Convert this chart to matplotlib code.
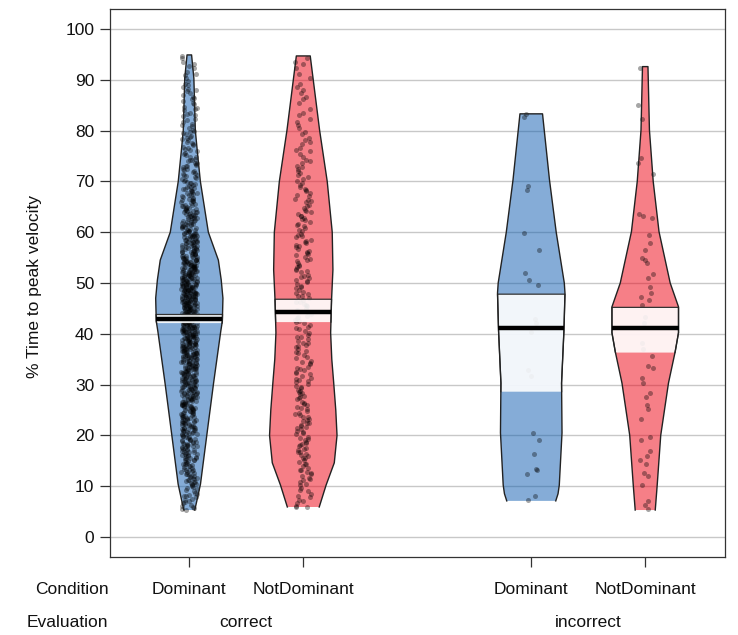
import numpy as np
import matplotlib
matplotlib.use("Agg")
import matplotlib.pyplot as plt
from matplotlib.transforms import blended_transform_factory

plt.rcParams['font.family'] = ['Liberation Sans', 'DejaVu Sans']

# groups, left to right
conditions = ["Dominant", "NotDominant", "Dominant", "NotDominant"]
evaluations = ["correct", "incorrect"]
positions = [1, 2, 4, 5]
colors = ["#0C5BB0", "#EE0011", "#0C5BB0", "#EE0011"]

# bean outlines: levels (% time) and half widths (x units)
bean_levels = [
    [5.3, 7.3, 10.4, 20.3, 30.3, 40.5, 42.5, 47, 50.6, 54.5, 60, 70, 76, 80, 90.3, 94.9],
    [5.9, 10.2, 14.6, 20, 25, 30.3, 35, 40.2, 46.7, 52.6, 60, 70, 80.1, 94.7],
    [7.1, 8.5, 10.2, 20.5, 30.3, 40.7, 48, 50, 60, 70.3, 83.3],
    [5.3, 10.2, 20, 30.3, 36.5, 40.2, 45.3, 50, 60.1, 70, 80.1, 92.6],
]
bean_widths = [
    [0.048, 0.068, 0.098, 0.155, 0.213, 0.276, 0.29, 0.295, 0.28, 0.255, 0.167, 0.097, 0.07, 0.053, 0.04, 0.02],
    [0.14, 0.2, 0.272, 0.296, 0.285, 0.267, 0.25, 0.24, 0.248, 0.26, 0.254, 0.21, 0.143, 0.061],
    [0.215, 0.235, 0.246, 0.27, 0.266, 0.287, 0.296, 0.29, 0.219, 0.16, 0.099],
    [0.088, 0.105, 0.136, 0.204, 0.263, 0.292, 0.292, 0.219, 0.121, 0.07, 0.037, 0.024],
]

# means and inference bands
means = [43.0, 44.3, 41.1, 41.1]
inf_low = [42.1, 42.3, 28.6, 36.3]
inf_high = [43.8, 46.8, 47.8, 45.2]

# correct trials: point counts per 5% bin (5-10, 10-15, ..., 90-95)
bin_start = 5
bin_size = 5
counts_dom_correct = [22, 38, 48, 57, 66, 74, 86, 96, 98, 83, 63, 50, 36, 28, 21, 16, 15, 10]
counts_notdom_correct = [12, 17, 20, 20, 19, 18, 17, 17, 18, 18, 18, 17, 15, 13, 10, 7, 7, 6]

# incorrect trials: individual values
dom_incorrect = [83.2, 82.7, 69.1, 68.4, 59.9, 56.4, 52.0, 50.6, 49.6, 43.0, 42.2, 40.4,
                 32.9, 31.7, 20.4, 19.0, 16.3, 13.3, 13.1, 12.4, 8.1, 7.3]
notdom_incorrect = [92.3, 85.0, 82.2, 74.7, 73.7, 71.5, 63.6, 63.1, 62.8, 59.4, 57.8, 56.5,
                    54.9, 54.5, 53.9, 51.8, 50.9, 49.3, 48.0, 47.2, 46.7, 45.7, 43.4, 42.1,
                    38.1, 37.1, 35.6, 33.7, 33.2, 31.2, 30.4, 28.3, 27.5, 26.0, 25.1, 23.2,
                    19.7, 19.1, 17.0, 15.9, 15.2, 14.3, 12.5, 12.0, 10.2, 7.1, 6.3, 5.6]


def spread(n, step):
    # evenly scattered fractions in [0, 1)
    return (np.arange(1, n + 1) * step) % 1.0


def scatter_frac(n):
    # fixed, irregular-looking fractions for the horizontal jitter
    k = np.arange(1, n + 1)
    return (np.sin(k * 78.233) * 43758.5453) % 1.0


def from_counts(counts, lo, hi):
    vals = []
    for i, c in enumerate(counts):
        vals.extend(bin_start + bin_size * (i + spread(c, 0.618034)))
    return np.clip(vals, lo, hi)


def bean_poly(levels, widths, x0, lo, hi):
    ys = [lo] + [l for l in levels if lo < l < hi] + [hi]
    ws = np.interp(ys, levels, widths)
    xs = np.concatenate([x0 - ws, (x0 + ws)[::-1]])
    yy = np.concatenate([ys, ys[::-1]])
    return xs, yy


points = [
    from_counts(counts_dom_correct, bean_levels[0][0], bean_levels[0][-1]),
    from_counts(counts_notdom_correct, bean_levels[1][0], bean_levels[1][-1]),
    np.array(dom_incorrect),
    np.array(notdom_incorrect),
]

fig = plt.figure(figsize=(7.38, 6.35), dpi=100)
ax = fig.add_axes([0.1484, 0.1224, 0.834, 0.8639])

for y in range(0, 101, 10):
    ax.axhline(y, color="#c8c8c8", lw=1.0, zorder=0)

for i, x0 in enumerate(positions):
    lv, wd = bean_levels[i], bean_widths[i]
    xs, ys = bean_poly(lv, wd, x0, lv[0], lv[-1])
    ax.fill(xs, ys, color=colors[i], alpha=0.5, lw=0, zorder=1)

    pts = points[i]
    jit = (scatter_frac(len(pts)) - 0.5) * 0.14
    ax.scatter(x0 + jit, pts, s=13, color="black", alpha=0.35, lw=0, zorder=2)

    bx, by = bean_poly(lv, wd, x0, inf_low[i], inf_high[i])
    ax.fill(bx, by, facecolor="white", alpha=0.9, edgecolor="none", zorder=3)
    ax.plot(bx, by, color="#333333", lw=0.9, zorder=4)

    ax.plot(xs, ys, color="#222222", lw=1.0, zorder=4)

    mw = np.interp(means[i], lv, wd)
    ax.plot([x0 - mw, x0 + mw], [means[i], means[i]], color="black", lw=3.2,
            solid_capstyle="butt", zorder=5)

ax.set_xlim(0.3, 5.7)
ax.set_ylim(-4, 104)
ax.set_yticks(range(0, 101, 10))
ax.set_xticks(positions)
ax.set_xticklabels([])
ax.tick_params(axis="both", length=7, width=0.9, color="#333333", labelsize=12.5,
               labelcolor="#111111", pad=4)
for s in ax.spines.values():
    s.set_color("#333333")
    s.set_linewidth(0.9)

ax.set_ylabel("% Time to peak velocity", fontsize=12.5, color="#111111")
ax.yaxis.set_label_coords(-0.11, 0.494)

tr = blended_transform_factory(ax.transData, ax.transAxes)
ax.text(0.29, -0.0596, "Condition", transform=tr, ha="right", va="center",
        fontsize=12.5, color="#111111", clip_on=False)
ax.text(0.29, -0.118, "Evaluation", transform=tr, ha="right", va="center",
        fontsize=12.5, color="#111111", clip_on=False)
for x0, c in zip(positions, conditions):
    ax.text(x0, -0.0596, c, transform=tr, ha="center", va="center",
            fontsize=12.5, color="#111111", clip_on=False)
for x0, e in zip([1.5, 4.5], evaluations):
    ax.text(x0, -0.118, e, transform=tr, ha="center", va="center",
            fontsize=12.5, color="#111111", clip_on=False)

fig.savefig("out.png", dpi=100)
